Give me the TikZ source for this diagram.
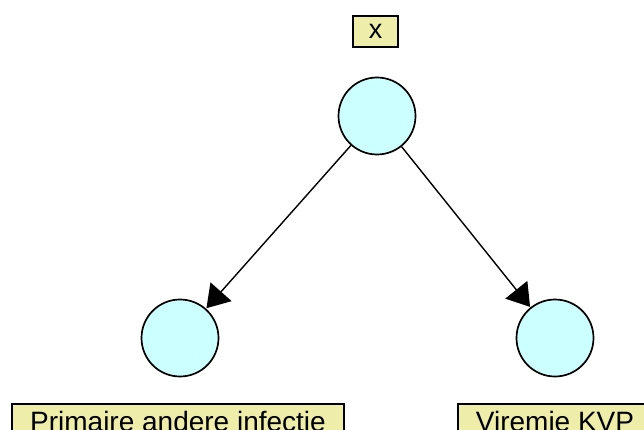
\documentclass[tikz,border=0pt]{standalone}
\usepackage{fontspec}
\setmainfont{Liberation Sans}
\usetikzlibrary{arrows.meta}
\definecolor{nodefill}{RGB}{204,255,255}
\definecolor{labelfill}{RGB}{238,238,170}
\begin{document}
\begin{tikzpicture}[x=1pt,y=-1pt,
  chance/.style={circle,draw=black,line width=1.7pt,fill=nodefill,minimum size=77pt,inner sep=0pt},
  tag/.style={draw=black,line width=1.7pt,fill=labelfill,font=\fontsize{28}{31}\selectfont,inner xsep=18pt,inner ysep=7pt},
  link/.style={line width=1.4pt,-{Triangle[length=22pt,width=28pt]},shorten >=0.5pt}]
\useasboundingbox (0,0) rectangle (644,430);
\clip (0,0) rectangle (644,430);
\fill[white] (0,0) rectangle (644,430);
% nodes
\node[chance] (top) at (377,116) {};
\node[chance] (left) at (180,338) {};
\node[chance] (right) at (555,338) {};
% labels
\node[draw=black,line width=1.7pt,fill=labelfill,minimum width=45pt,minimum height=31pt,inner sep=0pt,font=\fontsize{27}{30}\selectfont] (xl) at (375.5,31.5) {x};
\node[tag,anchor=north] (ll) at (178,403) {Primaire andere infectie};
\node[tag,anchor=north] (rl) at (555,403) {Viremie KVP};
% arcs
\draw[link] (top) -- (left);
\draw[link] (top) -- (right);
\end{tikzpicture}
\end{document}
